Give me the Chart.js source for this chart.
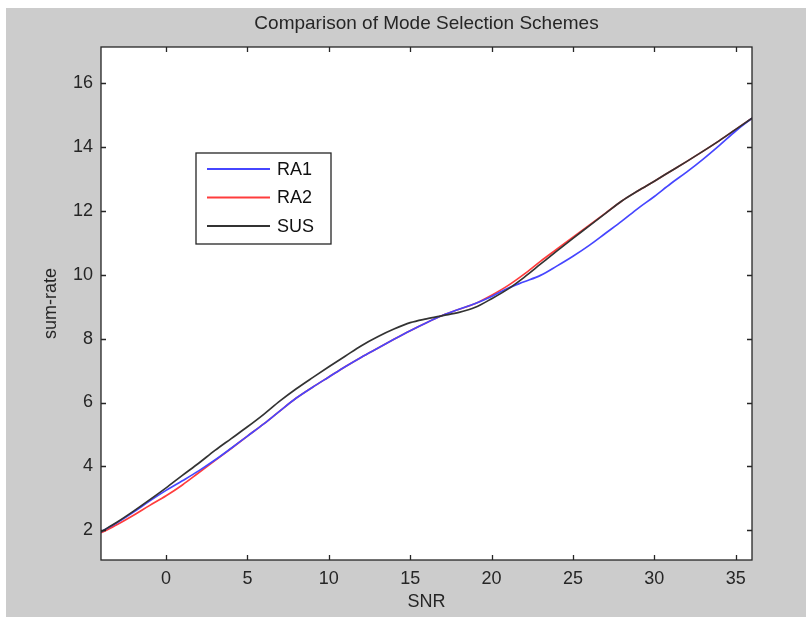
<!DOCTYPE html>
<html>
<head>
<meta charset="utf-8">
<script src="https://cdn.jsdelivr.net/npm/chart.js@4"></script>
<style>
  html, body { margin: 0; padding: 0; background: #ffffff; }
  #wrap { width: 806px; height: 617px; position: relative; }
</style>
</head>
<body>
<div id="wrap"><canvas id="modeChart" width="806" height="617"></canvas></div>
<script>
// x axis: SNR (dB)
const snr = [-4, -3, -2, -1, 0, 1, 2, 3, 4, 5, 6, 7, 8, 9, 10, 11, 12, 13, 14, 15, 16,
             17, 18, 19, 20, 21, 22, 23, 24, 25, 26, 27, 28, 29, 30, 31, 32, 33, 34, 35, 36];

// sum-rate per scheme
const ra1 = [1.95, 2.24, 2.57, 2.92, 3.25, 3.55, 3.86, 4.20, 4.57, 4.95, 5.33, 5.74, 6.14, 6.48,
             6.80, 7.12, 7.42, 7.70, 7.98, 8.25, 8.50, 8.73, 8.92, 9.10, 9.32, 9.58, 9.78, 9.98,
             10.27, 10.58, 10.92, 11.30, 11.68, 12.08, 12.45, 12.85, 13.22, 13.62, 14.05, 14.50, 14.90];
const ra2 = [1.92, 2.18, 2.47, 2.78, 3.08, 3.42, 3.80, 4.18, 4.56, 4.95, 5.33, 5.74, 6.14, 6.48,
             6.80, 7.12, 7.42, 7.70, 7.98, 8.25, 8.50, 8.73, 8.92, 9.10, 9.36, 9.66, 10.02, 10.42,
             10.80, 11.18, 11.55, 11.93, 12.31, 12.63, 12.93, 13.24, 13.55, 13.87, 14.20, 14.55, 14.90];
const sus = [1.95, 2.26, 2.60, 2.96, 3.33, 3.72, 4.10, 4.50, 4.87, 5.24, 5.63, 6.05, 6.43, 6.78,
             7.12, 7.45, 7.78, 8.06, 8.30, 8.50, 8.62, 8.72, 8.82, 8.98, 9.25, 9.55, 9.92, 10.33,
             10.74, 11.14, 11.53, 11.92, 12.31, 12.63, 12.93, 13.24, 13.55, 13.87, 14.20, 14.55, 14.90];

const xTicks = [0, 5, 10, 15, 20, 25, 30, 35];
const yTicks = [2, 4, 6, 8, 10, 12, 14, 16];

const chartTitle = 'Comparison of Mode Selection Schemes';

const FONT   = 'Liberation Sans, Arial, sans-serif';
const INK    = '#262626';
const FIG_BG = '#cccccc';

const toPoints = ys => ys.map((y, i) => ({ x: snr[i], y: y }));

// figure background, white axes, title, box + inward ticks, legend
const matlabAxes = {
  id: 'matlabAxes',
  beforeDraw(chart) {
    const { ctx, chartArea: a } = chart;
    ctx.save();
    ctx.fillStyle = FIG_BG;
    ctx.fillRect(6, 8, chart.width - 6, chart.height - 8);
    ctx.fillStyle = '#ffffff';
    ctx.fillRect(a.left, a.top, a.right - a.left, a.bottom - a.top);

    // title centred over the axes
    ctx.fillStyle = INK;
    ctx.font = '19px ' + FONT;
    ctx.textAlign = 'center';
    ctx.textBaseline = 'middle';
    ctx.fillText(chartTitle, (a.left + a.right) / 2, 24);
    ctx.restore();
  },
  afterDraw(chart) {
    const { ctx, chartArea: a, scales } = chart;
    const len = 5;
    ctx.save();
    ctx.strokeStyle = INK;
    ctx.lineWidth = 1.3;
    ctx.strokeRect(a.left, a.top, a.right - a.left, a.bottom - a.top);
    ctx.beginPath();
    xTicks.forEach(v => {
      const px = Math.round(scales.x.getPixelForValue(v)) + 0.5;
      ctx.moveTo(px, a.bottom); ctx.lineTo(px, a.bottom - len);
      ctx.moveTo(px, a.top);    ctx.lineTo(px, a.top + len);
    });
    yTicks.forEach(v => {
      const py = Math.round(scales.y.getPixelForValue(v)) + 0.5;
      ctx.moveTo(a.left, py);  ctx.lineTo(a.left + len, py);
      ctx.moveTo(a.right, py); ctx.lineTo(a.right - len, py);
    });
    ctx.stroke();

    // legend box
    const box = { x: 196, y: 153, w: 135, h: 91 };
    ctx.fillStyle = '#ffffff';
    ctx.fillRect(box.x, box.y, box.w, box.h);
    ctx.strokeStyle = INK;
    ctx.lineWidth = 1.3;
    ctx.strokeRect(box.x, box.y, box.w, box.h);
    ctx.font = '18px ' + FONT;
    ctx.textBaseline = 'middle';
    ctx.fillStyle = '#111111';
    [0, 1, 2].forEach(i => {
      const ds = chart.data.datasets[i];
      const ly = 169 + i * 28.5;
      ctx.strokeStyle = ds.borderColor;
      ctx.lineWidth = 1.8;
      ctx.beginPath();
      ctx.moveTo(207, ly); ctx.lineTo(270, ly);
      ctx.stroke();
      ctx.fillText(ds.label, 277, ly + 1);
    });
    ctx.restore();
  }
};

const ctx = document.getElementById('modeChart').getContext('2d');

new Chart(ctx, {
  type: 'line',
  data: {
    datasets: [
      { label: 'RA1', data: toPoints(ra1), borderColor: '#4646ff', order: 1 },
      { label: 'RA2', data: toPoints(ra2), borderColor: '#ff3c3c', order: 2 },
      { label: 'SUS', data: toPoints(sus), borderColor: '#333333', order: 0 }
    ]
  },
  options: {
    responsive: false,
    animation: false,
    devicePixelRatio: 1,
    layout: { padding: { left: 0, right: 54, top: 47, bottom: 0 } },
    elements: {
      line: { borderWidth: 1.7, cubicInterpolationMode: 'monotone', fill: false },
      point: { radius: 0 }
    },
    scales: {
      x: {
        type: 'linear',
        min: -4,
        max: 36,
        afterBuildTicks: scale => { scale.ticks = xTicks.map(v => ({ value: v })); },
        afterFit: scale => { scale.height = 57; },
        grid: { display: false, drawTicks: false },
        border: { display: false },
        ticks: { color: INK, font: { family: FONT, size: 18 }, padding: 8, maxRotation: 0 },
        title: { display: true, text: 'SNR', color: INK, font: { family: FONT, size: 18 },
                 padding: { top: 0, bottom: 4 } }
      },
      y: {
        type: 'linear',
        min: 1.07,
        max: 17.13,
        afterBuildTicks: scale => { scale.ticks = yTicks.map(v => ({ value: v })); },
        afterFit: scale => { scale.width = 101; },
        grid: { display: false, drawTicks: false },
        border: { display: false },
        ticks: { color: INK, font: { family: FONT, size: 18 }, padding: 8 },
        title: { display: true, text: 'sum-rate', color: INK, font: { family: FONT, size: 18 },
                 padding: { top: 40, bottom: 0 } }
      }
    },
    plugins: {
      legend: { display: false },
      tooltip: { enabled: false },
      title: { display: false }
    }
  },
  plugins: [matlabAxes]
});
</script>
</body>
</html>
